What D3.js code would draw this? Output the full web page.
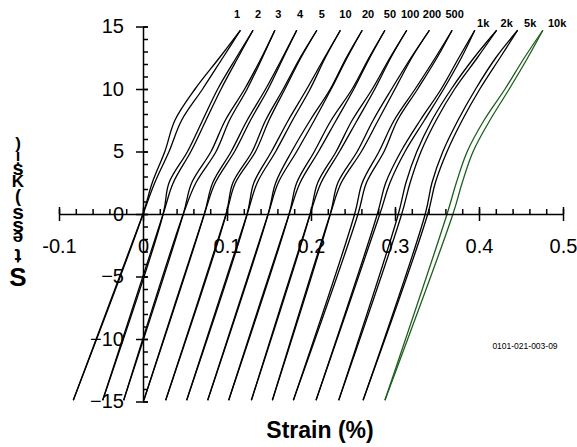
<!DOCTYPE html>
<html>
<head>
<meta charset="utf-8">
<script src="https://cdn.jsdelivr.net/npm/d3@7"></script>
<style>
  body { margin: 0; background: #fff; }
  svg { display: block; font-family: "Liberation Sans", Arial, Helvetica, sans-serif; }
</style>
</head>
<body>
<div id="chart"></div>
<script>
// cycle labels, one hysteresis loop per cycle (shifted along strain for display)
const cycleLabels = ['1', '2', '3', '4', '5', '10', '20', '50', '100', '200', '500', '1k', '2k', '5k', '10k'];

// stress (ksi) at which branch strains were read
const stressLevels = [0, 2.5, 5, 7.5, 10, 12.5, 14.7];
const minStress = -14.9;

// strain (%) at the compressive tip of each loop
const lowerTipStrain = [-0.083, -0.048, -0.023, 0.001, 0.027, 0.052, 0.077, 0.102, 0.129, 0.154, 0.179, 0.206, 0.233, 0.262, 0.288];

// strain (%) of the left branch at each stress level
const leftBranchStrain = [
  [0.000, 0.011, 0.026, 0.038, 0.062, 0.091, 0.116],
  [0.024, 0.031, 0.053, 0.071, 0.089, 0.111, 0.131],
  [0.048, 0.058, 0.081, 0.098, 0.121, 0.141, 0.157],
  [0.073, 0.083, 0.105, 0.124, 0.146, 0.166, 0.183],
  [0.099, 0.107, 0.130, 0.146, 0.167, 0.187, 0.207],
  [0.124, 0.132, 0.153, 0.173, 0.195, 0.216, 0.235],
  [0.149, 0.158, 0.177, 0.199, 0.223, 0.242, 0.261],
  [0.174, 0.183, 0.204, 0.224, 0.249, 0.269, 0.288],
  [0.199, 0.208, 0.230, 0.249, 0.273, 0.294, 0.314],
  [0.223, 0.232, 0.255, 0.274, 0.296, 0.319, 0.341],
  [0.252, 0.261, 0.281, 0.299, 0.324, 0.348, 0.368],
  [0.279, 0.289, 0.307, 0.330, 0.355, 0.376, 0.395],
  [0.304, 0.313, 0.326, 0.344, 0.367, 0.394, 0.421],
  [0.336, 0.344, 0.357, 0.375, 0.396, 0.420, 0.446],
  [0.362, 0.373, 0.386, 0.406, 0.431, 0.454, 0.476]
];

// strain (%) of the right branch at each stress level
const rightBranchStrain = [
  [0.000, 0.014, 0.031, 0.046, 0.071, 0.095, 0.116],
  [0.024, 0.036, 0.057, 0.075, 0.093, 0.113, 0.131],
  [0.048, 0.063, 0.087, 0.103, 0.124, 0.142, 0.157],
  [0.073, 0.086, 0.109, 0.128, 0.149, 0.167, 0.183],
  [0.099, 0.110, 0.134, 0.150, 0.169, 0.188, 0.207],
  [0.124, 0.136, 0.158, 0.178, 0.199, 0.217, 0.235],
  [0.149, 0.161, 0.183, 0.204, 0.224, 0.243, 0.261],
  [0.174, 0.187, 0.209, 0.230, 0.251, 0.270, 0.288],
  [0.199, 0.212, 0.234, 0.255, 0.276, 0.295, 0.314],
  [0.223, 0.236, 0.260, 0.280, 0.300, 0.320, 0.341],
  [0.256, 0.266, 0.287, 0.303, 0.327, 0.350, 0.368],
  [0.282, 0.294, 0.312, 0.335, 0.358, 0.379, 0.395],
  [0.308, 0.318, 0.331, 0.349, 0.371, 0.398, 0.421],
  [0.339, 0.348, 0.362, 0.380, 0.401, 0.425, 0.446],
  [0.369, 0.380, 0.393, 0.413, 0.436, 0.458, 0.476]
];

// strain where each cycle label sits
const labelStrain = [0.112, 0.137, 0.161, 0.187, 0.213, 0.241, 0.268, 0.294, 0.318, 0.344, 0.371, 0.405, 0.433, 0.461, 0.493];

const xTicks = [-0.1, 0, 0.1, 0.2, 0.3, 0.4, 0.5];
const yTicks = [-15, -10, -5, 0, 5, 10, 15];

const width = 577, height = 447;

const svg = d3.select('#chart').append('svg')
  .attr('width', width)
  .attr('height', height);

const x = d3.scaleLinear().domain([-0.1, 0.5]).range([59, 563]);
const y = d3.scaleLinear().domain([-15, 15]).range([401.5, 26.5]);

// loops
const branchLine = d3.line()
  .x(d => x(d[0]))
  .y(d => y(d[1]))
  .curve(d3.curveCatmullRom.alpha(0.5));

const loops = svg.append('g').attr('fill', 'none').attr('stroke-width', 1.3);

cycleLabels.forEach((label, i) => {
  const colour = i === cycleLabels.length - 1 ? '#1d5e1d' : '#000';
  [leftBranchStrain[i], rightBranchStrain[i]].forEach(branch => {
    const pts = [[lowerTipStrain[i], minStress]].concat(stressLevels.map((s, j) => [branch[j], s]));
    loops.append('path')
      .attr('d', branchLine(pts))
      .attr('stroke', colour);
  });
});

// x axis through the origin
const xAxis = svg.append('g')
  .attr('transform', 'translate(0,' + y(0) + ')')
  .call(d3.axisBottom(x)
    .tickValues(xTicks)
    .tickSize(7)
    .tickSizeOuter(0)
    .tickPadding(18)
    .tickFormat(d => String(+d.toFixed(1))));
xAxis.selectAll('.tick line').attr('y1', -7);

svg.append('g')
  .attr('transform', 'translate(0,' + y(0) + ')')
  .call(d3.axisTop(x)
    .tickValues(d3.range(-5, 26).map(k => k * 0.02))
    .tickSize(5)
    .tickSizeOuter(0)
    .tickFormat(''))
  .select('.domain').remove();

// y axis through the origin
const yAxis = svg.append('g')
  .attr('transform', 'translate(' + x(0) + ',0)')
  .call(d3.axisLeft(y)
    .tickValues(yTicks)
    .tickSize(7)
    .tickSizeOuter(0)
    .tickPadding(12));
yAxis.selectAll('.tick line').attr('x1', 5);

svg.append('g')
  .attr('transform', 'translate(' + x(0) + ',0)')
  .call(d3.axisRight(y)
    .tickValues(d3.range(-15, 16))
    .tickSize(5)
    .tickSizeOuter(0)
    .tickFormat(''))
  .select('.domain').remove();

svg.selectAll('.domain, .tick line').attr('stroke', '#000').attr('stroke-width', 1.5);
svg.selectAll('.tick text')
  .attr('font-family', '"Liberation Sans", Arial, sans-serif')
  .attr('font-size', 20)
  .attr('fill', '#000');

// cycle labels along the top
svg.append('g')
  .selectAll('text')
  .data(cycleLabels)
  .join('text')
  .attr('x', (d, i) => x(labelStrain[i]))
  .attr('y', (d, i) => i < 11 ? 18 : 27)
  .attr('text-anchor', 'middle')
  .attr('font-size', 11)
  .attr('font-weight', 'bold')
  .text(d => d);

// axis titles
svg.append('text')
  .attr('x', 320)
  .attr('y', 438)
  .attr('text-anchor', 'middle')
  .attr('font-size', 23)
  .attr('font-weight', 'bold')
  .text('Strain (%)');

// stacked glyphs of the stress title as they appear, bottom to top
const yTitleGlyphs = [
  { c: 'S', cy: 277, size: 26, flip: false },
  { c: 't', cy: 256, size: 20, flip: true },
  { c: 'e', cy: 238, size: 19, flip: true },
  { c: 's', cy: 224, size: 21, flip: false },
  { c: 's', cy: 211, size: 21, flip: false },
  { c: '(', cy: 196, size: 18, flip: false },
  { c: 'K', cy: 181, size: 17, flip: false },
  { c: 's', cy: 168, size: 20, flip: false },
  { c: 'i', cy: 157, size: 16, flip: true },
  { c: ')', cy: 143, size: 17, flip: false }
];
svg.append('g')
  .selectAll('text')
  .data(yTitleGlyphs)
  .join('text')
  .attr('text-anchor', 'middle')
  .attr('dominant-baseline', 'central')
  .attr('font-size', d => d.size)
  .attr('font-weight', 'bold')
  .attr('transform', d => 'translate(18,' + d.cy + ')' + (d.flip ? ' rotate(180)' : ''))
  .text(d => d.c);

svg.append('text')
  .attr('x', 525)
  .attr('y', 349)
  .attr('text-anchor', 'middle')
  .attr('font-size', 8.5)
  .text('0101-021-003-09');
</script>
</body>
</html>
